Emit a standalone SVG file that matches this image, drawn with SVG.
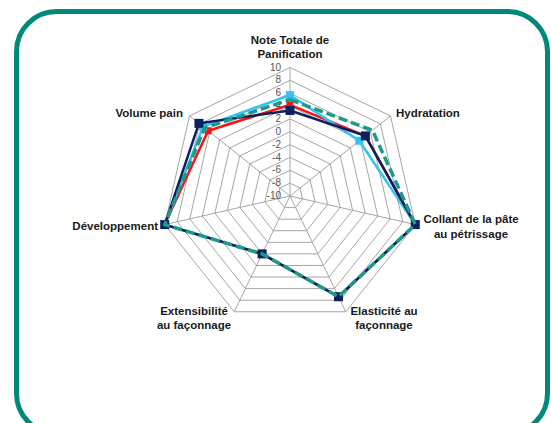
<svg xmlns="http://www.w3.org/2000/svg" width="551" height="423" viewBox="0 0 551 423">
<style>
.lbl{font-family:"Liberation Sans",Arial,sans-serif;font-weight:bold;font-size:11.5px;fill:#1a1a1a}
.sc{font-family:"Liberation Sans",Arial,sans-serif;font-size:10px;fill:#555;text-anchor:end}
.ring{fill:none;stroke:#a6a6a6;stroke-width:1}
.spoke{stroke:#a6a6a6;stroke-width:1}
.s{fill:none;stroke-linejoin:miter}
</style>
<defs>
<rect id="mN" x="-4.5" y="-4.5" width="9" height="9" fill="#0c1f5e"/>
<rect id="mR" x="-3.5" y="-3.5" width="7" height="7" fill="#ff1010"/>
<rect id="mB" x="-4" y="-4" width="8" height="8" fill="#33c3f0"/>
</defs>
<rect width="551" height="423" fill="#ffffff"/>
<rect id="frame" x="16.5" y="11.5" width="531" height="422" rx="40" ry="40" fill="#ffffff" stroke="#00897b" stroke-width="5"/>
<g id="grid" transform="translate(290,196)">
<polygon class="ring" points="0,-12.85 10.05,-8.01 12.53,2.86 5.58,11.58 -5.58,11.58 -12.53,2.86 -10.05,-8.01"/>
<polygon class="ring" points="0,-25.7 20.09,-16.02 25.06,5.72 11.15,23.15 -11.15,23.15 -25.06,5.72 -20.09,-16.02"/>
<polygon class="ring" points="0,-38.55 30.14,-24.04 37.58,8.58 16.73,34.73 -16.73,34.73 -37.58,8.58 -30.14,-24.04"/>
<polygon class="ring" points="0,-51.4 40.19,-32.05 50.11,11.44 22.3,46.31 -22.3,46.31 -50.11,11.44 -40.19,-32.05"/>
<polygon class="ring" points="0,-64.25 50.23,-40.06 62.64,14.3 27.88,57.89 -27.88,57.89 -62.64,14.3 -50.23,-40.06"/>
<polygon class="ring" points="0,-77.1 60.28,-48.07 75.17,17.16 33.45,69.46 -33.45,69.46 -75.17,17.16 -60.28,-48.07"/>
<polygon class="ring" points="0,-89.95 70.33,-56.08 87.69,20.02 39.03,81.04 -39.03,81.04 -87.69,20.02 -70.33,-56.08"/>
<polygon class="ring" points="0,-102.8 80.37,-64.09 100.22,22.88 44.6,92.62 -44.6,92.62 -100.22,22.88 -80.37,-64.09"/>
<polygon class="ring" points="0,-115.65 90.42,-72.11 112.75,25.73 50.18,104.2 -50.18,104.2 -112.75,25.73 -90.42,-72.11"/>
<polygon class="ring" points="0,-128.5 100.47,-80.12 125.28,28.59 55.75,115.77 -55.75,115.77 -125.28,28.59 -100.47,-80.12"/>
<line class="spoke" x1="0" y1="0" x2="0" y2="-128.5"/>
<line class="spoke" x1="0" y1="0" x2="100.47" y2="-80.12"/>
<line class="spoke" x1="0" y1="0" x2="125.28" y2="28.59"/>
<line class="spoke" x1="0" y1="0" x2="55.75" y2="115.77"/>
<line class="spoke" x1="0" y1="0" x2="-55.75" y2="115.77"/>
<line class="spoke" x1="0" y1="0" x2="-125.28" y2="28.59"/>
<line class="spoke" x1="0" y1="0" x2="-100.47" y2="-80.12"/>
</g>
<g id="scale">
<text class="sc" x="281" y="70.5">10</text>
<text class="sc" x="281" y="83.3">8</text>
<text class="sc" x="281" y="96.2">6</text>
<text class="sc" x="281" y="109">4</text>
<text class="sc" x="281" y="121.9">2</text>
<text class="sc" x="281" y="134.8">0</text>
<text class="sc" x="281" y="147.6">-2</text>
<text class="sc" x="281" y="160.5">-4</text>
<text class="sc" x="281" y="173.3">-6</text>
<text class="sc" x="281" y="186.2">-8</text>
<text class="sc" x="281" y="199">-10</text>
</g>
<g id="axis-note"><text class="lbl" x="290" y="44" text-anchor="middle">Note Totale de</text><text class="lbl" x="290" y="58" text-anchor="middle">Panification</text></g>
<g id="axis-hydratation"><text class="lbl" x="396" y="117">Hydratation</text></g>
<g id="axis-collant"><text class="lbl" x="471" y="222.5" text-anchor="middle">Collant de la pâte</text><text class="lbl" x="471" y="237.5" text-anchor="middle">au pétrissage</text></g>
<g id="axis-elasticite"><text class="lbl" x="384" y="315" text-anchor="middle">Elasticité au</text><text class="lbl" x="384" y="329" text-anchor="middle">façonnage</text></g>
<g id="axis-extensibilite"><text class="lbl" x="194" y="315" text-anchor="middle">Extensibilité</text><text class="lbl" x="194" y="329" text-anchor="middle">au façonnage</text></g>
<g id="axis-developpement"><text class="lbl" x="158" y="230" text-anchor="end">Développement</text></g>
<g id="axis-volume"><text class="lbl" x="183" y="117" text-anchor="end">Volume pain</text></g>
<g id="series" transform="translate(290,196)">
<g id="series-red">
<polygon class="s" stroke="#ff1010" stroke-width="2.5" points="0,-91.2 75.37,-60.1 125.28,28.59 48.51,100.73 -27.88,57.89 -125.28,28.59 -81.86,-65.28"/>
<use href="#mR" x="0" y="-91.2"/><use href="#mR" x="75.37" y="-60.1"/><use href="#mR" x="-81.86" y="-65.28"/>
</g>
<g id="series-lightblue">
<polygon class="s" stroke="#33c3f0" stroke-width="2.5" points="0,-100.9 69.27,-55.24 125.28,28.59 48.51,100.73 -27.88,57.89 -125.28,28.59 -86.94,-69.33"/>
<use href="#mB" x="0" y="-100.9"/><use href="#mB" x="69.27" y="-55.24"/><use href="#mB" x="-86.94" y="-69.33"/>
</g>
<g id="series-navy">
<polygon class="s" stroke="#0c1f5e" stroke-width="2.5" points="0,-85.5 75.37,-60.1 125.28,28.59 48.51,100.73 -27.88,57.89 -125.28,28.59 -91.08,-72.64"/>
<use href="#mN" x="0" y="-85.5"/><use href="#mN" x="75.37" y="-60.1"/><use href="#mN" x="125.28" y="28.59"/><use href="#mN" x="48.51" y="100.73"/><use href="#mN" x="-27.88" y="57.89"/><use href="#mN" x="-125.28" y="28.59"/><use href="#mN" x="-91.08" y="-72.64"/>
</g>
<g id="series-teal">
<polygon class="s" stroke="#1f9a88" stroke-width="3.5" stroke-dasharray="9,4" points="0,-96.4 82.4,-65.72 125.28,28.59 48.51,100.73 -27.88,57.89 -125.28,28.59 -85.38,-68.09"/>
</g>
</g>
</svg>
